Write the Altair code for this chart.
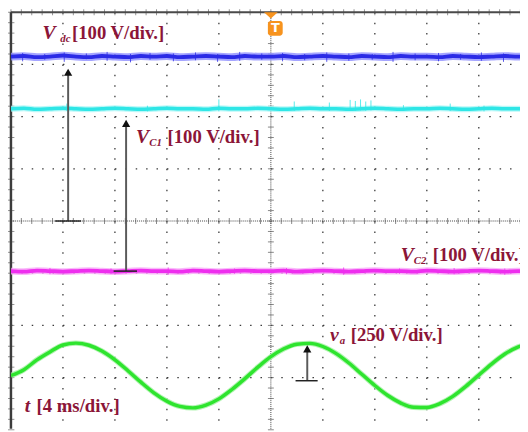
import altair as alt
import pandas as pd

# ---------------- data ----------------
t_ms = [-20, -19, -18, -17, -16, -15, -14, -13, -12, -11, -10, -9, -8, -7, -6, -5, -4, -3, -2, -1,
        0, 1, 2, 3, 4, 5, 6, 7, 8, 9, 10, 11, 12, 13, 14, 15, 16, 17, 18, 19, 20]

vdc_v = [315, 316, 314, 315, 317, 315, 314, 316, 315, 314, 316, 315, 316, 314, 315, 316, 315, 314, 316, 315,
         315, 316, 314, 315, 316, 315, 314, 316, 315, 314, 316, 315, 315, 314, 316, 315, 314, 315, 316, 315, 315]
vc1_v = [160, 161, 159, 160, 161, 160, 159, 160, 161, 160, 159, 160, 161, 160, 160, 159, 161, 160, 160, 161,
         160, 159, 160, 161, 160, 160, 159, 160, 161, 160, 159, 160, 160, 161, 160, 159, 160, 161, 160, 160, 160]
vc2_v = [157, 156, 158, 157, 156, 157, 158, 157, 156, 157, 158, 157, 157, 156, 158, 157, 156, 157, 158, 157,
         157, 158, 156, 157, 158, 157, 156, 157, 158, 157, 157, 156, 158, 157, 156, 157, 158, 157, 156, 157, 157]
va_v = [0, 28, 75, 113, 146, 155, 145, 117, 75, 23, -32, -83, -123, -148, -155, -142, -112, -67, -15, 40,
        90, 128, 150, 154, 139, 106, 60, 6, -48, -96, -132, -152, -153, -135, -100, -52, 2, 56, 103, 136, 154]

channels = ["Vdc", "VC1", "VC2", "va"]
volts_per_div = [100, 100, 100, 250]
ground_div = [0.0, 0.55, -2.53, -2.96]
core_colors = ["#2b2be6", "#2ee6e6", "#ee2eee", "#2ee42e"]
halo_colors = ["#8f8fff", "#a8f6f6", "#f8a8f8", "#a0f0a0"]
core_width = [4, 3.5, 4, 3.5]
halo_width = [8, 6, 7, 5.5]

# noise spikes (time ms, low V, high V)
vdc_spk_t = [-19.1, -17.4, -15.9, -14.2, -12.6, -10.8, -9.3, -7.5, -5.8, -4.1, -2.4, -0.7,
             0.9, 2.6, 4.3, 6.0, 7.8, 9.4, 11.1, 12.9, 14.6, 16.2, 17.9]
vdc_spk_lo = [306, 309, 305, 310, 307, 304, 309, 306, 308, 305, 307, 309,
              306, 308, 305, 307, 309, 305, 308, 306, 309, 307, 305]
vdc_spk_hi = [322, 320, 323, 321, 324, 320, 322, 321, 323, 320, 324, 321,
              322, 320, 323, 321, 320, 324, 321, 322, 320, 323, 321]
vc1_spk_t = [-15.7, -4.0, 1.8, 4.5, 6.1, 6.5, 6.9, 7.3, 7.7, 13.8, -9.5, 10.2, 16.4]
vc1_spk_lo = [156, 155, 156, 156, 157, 156, 157, 156, 157, 156, 155, 156, 155]
vc1_spk_hi = [170, 178, 174, 172, 177, 175, 178, 174, 176, 170, 166, 167, 166]
vc2_spk_t = [-17.0, -12.3, -7.9, -2.8, 1.2, 5.6, 9.9, 14.1, 18.0]
vc2_spk_lo = [151, 152, 150, 152, 151, 150, 152, 151, 150]
vc2_spk_hi = [163, 162, 164, 162, 163, 164, 162, 163, 162]

# annotation arrows (time ms, base div, tip div, foot from/to ms)
arrow_t = [-15.6, -11.14, 2.8]
arrow_base = [0.0, -0.96, -3.06]
arrow_tip = [2.94, 1.96, -2.36]
foot_from = [-16.6, -12.1, 1.9]
foot_to = [-14.6, -10.3, 3.6]

# labels: text, time ms, level div, kind
label_text = ["V", "dc", "[100 V/div.]", "V", "C1", "[100 V/div.]", "V", "C2", "[100 V/div.]",
              "v", "a", "[250 V/div.]", "t", "[4 ms/div.]"]
label_t = [-17.58, -16.2, -15.3, -10.38, -9.35, -7.95, 10.0, 11.0, 12.45,
           4.55, 5.3, 6.14, -18.94, -18.03]
label_y = [3.49, 3.43, 3.49, 1.49, 1.43, 1.49, -0.77, -0.83, -0.77,
           -2.30, -2.36, -2.30, -3.66, -3.66]
label_kind = ["sym", "sub", "unit", "sym", "sub", "unit", "sym", "sub", "unit",
              "sym", "sub", "unit", "sym", "unit"]

X_DOMAIN = [-20.0, 19.17]
Y_DOMAIN = [-3.98, 4.0]
major_t = [-16, -12, -8, -4, 4, 8, 12, 16]
major_y = [-3, -2, -1, 1, 2, 3]
minor_t = [round(-20 + 0.8 * k, 2) for k in range(51)]
minor_y = [round(-4 + 0.2 * k, 2) for k in range(41)]

# ---------------- build ----------------
xs = alt.Scale(domain=X_DOMAIN, nice=False, zero=False)
ys = alt.Scale(domain=Y_DOMAIN, nice=False, zero=False)


def X(f="t"):
    return alt.X(f"{f}:Q", scale=xs, axis=None)


def Y(f="y"):
    return alt.Y(f"{f}:Q", scale=ys, axis=None)


layers = []

# grid dotted lines
layers.append(
    alt.Chart(pd.DataFrame({"t": major_t})).mark_rule(color="#3a3a3a", strokeWidth=1.3, strokeDash=[1.5, 9.1])
    .encode(x=X(), y=alt.Y(datum=Y_DOMAIN[1], scale=ys, axis=None), y2=alt.Y2(datum=Y_DOMAIN[0]))
)
layers.append(
    alt.Chart(pd.DataFrame({"y": major_y})).mark_rule(color="#3a3a3a", strokeWidth=1.3, strokeDash=[1.5, 9.06])
    .encode(y=Y(), x=alt.X(datum=X_DOMAIN[0], scale=xs, axis=None), x2=alt.X2(datum=X_DOMAIN[1]))
)
# centre lines
layers.append(
    alt.Chart(pd.DataFrame({"t": [0]})).mark_rule(color="#444", strokeWidth=1, strokeDash=[1, 1])
    .encode(x=X(), y=alt.Y(datum=Y_DOMAIN[1], scale=ys, axis=None), y2=alt.Y2(datum=Y_DOMAIN[0]))
)
layers.append(
    alt.Chart(pd.DataFrame({"y": [0]})).mark_rule(color="#444", strokeWidth=1, strokeDash=[1, 1])
    .encode(y=Y(), x=alt.X(datum=X_DOMAIN[0], scale=xs, axis=None), x2=alt.X2(datum=X_DOMAIN[1]))
)
# centre and border minor ticks
layers.append(
    alt.Chart(pd.DataFrame({"t": minor_t, "y": 0.0})).mark_tick(orient="vertical", size=6, thickness=1, color="#555")
    .encode(x=X(), y=Y())
)
layers.append(
    alt.Chart(pd.DataFrame({"t": minor_t, "y": Y_DOMAIN[1]})).mark_tick(orient="vertical", size=6, thickness=1, color="#666")
    .encode(x=X(), y=Y())
)
layers.append(
    alt.Chart(pd.DataFrame({"y": minor_y, "t": 0.0})).mark_tick(orient="horizontal", size=6, thickness=1, color="#555")
    .encode(x=X(), y=Y())
)
layers.append(
    alt.Chart(pd.DataFrame({"y": minor_y, "t": X_DOMAIN[0]})).mark_tick(orient="horizontal", size=7, thickness=1, color="#666")
    .encode(x=X(), y=Y())
)
# borders (top / left)
layers.append(
    alt.Chart(pd.DataFrame({"y": [Y_DOMAIN[1]]})).mark_rule(color="#4a4a4a", strokeWidth=2)
    .encode(y=Y(), x=alt.X(datum=X_DOMAIN[0], scale=xs, axis=None), x2=alt.X2(datum=X_DOMAIN[1]))
)
layers.append(
    alt.Chart(pd.DataFrame({"t": [X_DOMAIN[0]]})).mark_rule(color="#3c3c3c", strokeWidth=2.5)
    .encode(x=X(), y=alt.Y(datum=Y_DOMAIN[1], scale=ys, axis=None), y2=alt.Y2(datum=Y_DOMAIN[0]))
)

# traces
series = [vdc_v, vc1_v, vc2_v, va_v]
spikes = {0: (vdc_spk_t, vdc_spk_lo, vdc_spk_hi), 1: (vc1_spk_t, vc1_spk_lo, vc1_spk_hi),
          2: (vc2_spk_t, vc2_spk_lo, vc2_spk_hi)}
for i, name in enumerate(channels):
    df = pd.DataFrame({"t": t_ms, "y": [ground_div[i] + v / volts_per_div[i] for v in series[i]]})
    layers.append(alt.Chart(df).mark_line(color=halo_colors[i], strokeWidth=halo_width[i], opacity=0.8,
                                          interpolate="monotone", clip=True).encode(x=X(), y=Y()))
    if i in spikes:
        st, lo, hi = spikes[i]
        sdf = pd.DataFrame({"t": st,
                            "y": [ground_div[i] + v / volts_per_div[i] for v in lo],
                            "y2": [ground_div[i] + v / volts_per_div[i] for v in hi]})
        layers.append(alt.Chart(sdf).mark_rule(color=core_colors[i], strokeWidth=1, opacity=0.8)
                      .encode(x=X(), y=Y(), y2="y2:Q"))
    layers.append(alt.Chart(df).mark_line(color=core_colors[i], strokeWidth=core_width[i],
                                          interpolate="monotone", clip=True).encode(x=X(), y=Y()))

# arrows
adf = pd.DataFrame({"t": arrow_t, "y": arrow_base, "y2": [v - 0.1 for v in arrow_tip],
                    "head": [v - 0.09 for v in arrow_tip], "f1": foot_from, "f2": foot_to})
layers.append(alt.Chart(adf).mark_rule(color="#5a5a5a", strokeWidth=2).encode(x=X(), y=Y(), y2="y2:Q"))
layers.append(alt.Chart(adf).mark_rule(color="#222", strokeWidth=1.5).encode(x=X("f1"), x2="f2:Q", y=Y()))
layers.append(alt.Chart(adf).mark_point(shape="triangle-up", filled=True, size=70, color="#111", opacity=1)
              .encode(x=X(), y=Y("head")))

# labels
ldf = pd.DataFrame({"t": label_t, "y": label_y, "text": label_text, "kind": label_kind})
LABEL_COLOR = "#8b1538"
styles = {
    "sym": dict(fontSize=20, fontStyle="italic", fontWeight="bold"),
    "sub": dict(fontSize=11, fontStyle="italic", fontWeight="bold"),
    "unit": dict(fontSize=19, fontWeight="bold"),
}
for kind, st in styles.items():
    layers.append(
        alt.Chart(ldf).transform_filter(alt.datum.kind == kind)
        .mark_text(font="Liberation Serif", color=LABEL_COLOR, align="left", baseline="alphabetic", **st)
        .encode(x=X(), y=Y(), text="text:N")
    )

# trigger marker
TRIG_COLOR = "#f7931e"
tdf = pd.DataFrame({"t": [0.0], "y": [3.94], "r1": [-0.23], "r2": [0.91], "q1": [3.55], "q2": [3.83],
                    "tc": [0.34], "yc": [3.69], "lab": ["T"]})
layers.append(alt.Chart(tdf).mark_point(shape="M-1,-0.45L1,-0.45L0,0.45Z", filled=True, size=196,
                                        color=TRIG_COLOR, opacity=1)
              .encode(x=X(), y=Y()))
layers.append(alt.Chart(tdf).mark_rect(color=TRIG_COLOR, cornerRadius=3)
              .encode(x=X("r1"), x2="r2:Q", y=Y("q1"), y2="q2:Q"))
layers.append(alt.Chart(tdf).mark_text(color="white", fontWeight="bold", fontSize=13, font="DejaVu Sans",
                                       align="center", baseline="middle")
              .encode(x=X("tc"), y=Y("yc"), text="lab:N"))

chart = (
    alt.layer(*layers)
    .properties(width=517, height=423, padding={"left": 3, "top": 1, "right": 0, "bottom": 0},
                autosize=alt.AutoSizeParams(type="none"), background="white")
    .configure_view(stroke=None)
)

chart.save("out.html", embed_options={"renderer": "svg", "actions": False})
